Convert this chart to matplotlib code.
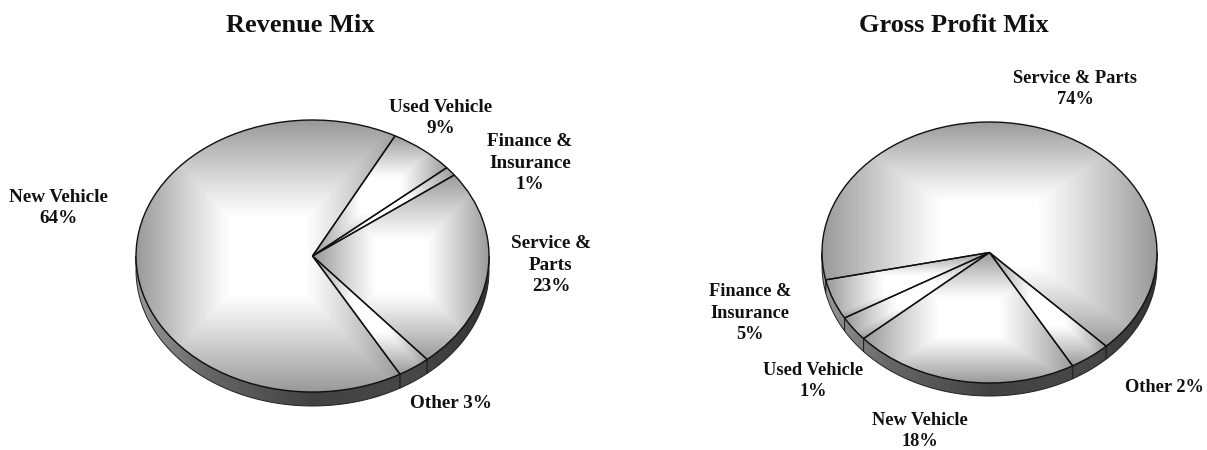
import numpy as np
import matplotlib
matplotlib.use("Agg")
import matplotlib.pyplot as plt
from matplotlib.patches import Polygon

W, H = 1207, 450

# slice shares as drawn in the picture (they differ from the printed percentages)
revenue_shares = [6.0, 1.1, 23.9, 3.0, 66.0]  # used, f&i, service, other, new
profit_shares = [66.1, 4.0, 21.8, 3.1, 5.0]  # service, other, new, used, f&i

revenue_labels = ["Used Vehicle\n9%", "Finance &\nInsurance\n1%", "Service &\nParts\n23%",
                  "Other 3%", "New Vehicle\n64%"]
profit_labels = ["Service & Parts\n74%", "Other 2%", "New Vehicle\n18%",
                 "Used Vehicle\n1%", "Finance &\nInsurance\n5%"]

revenue_label_pos = [(441, 118), (530, 163), (551, 265), (451, 403), (58, 208)]
profit_label_pos = [(1075, 89), (1164, 388), (920, 431), (813, 381), (750, 313)]

plt.rcParams["font.family"] = ["Liberation Serif", "DejaVu Serif"]
plt.rcParams["font.weight"] = "bold"

fig = plt.figure(figsize=(W / 100, H / 100), dpi=100, facecolor="white")


def px_text(x, y, s, size):
    fig.text(x / W, 1 - y / H, s, ha="center", va="center", fontsize=size,
             fontweight="bold", color="#111111", linespacing=1.36)


def top_shade():
    # rectangular gradient, white in the middle and gray at the box edges
    g = np.linspace(-1, 1, 240)
    u, v = np.meshgrid(g, g)
    t = np.maximum(np.abs(u), np.abs(v))
    return 1 - 0.4 * np.clip((t - 0.28) / 0.72, 0, 1) ** 1.1


def side_wall(ax, wedge, depth):
    for shift in (-360, 0, 360):
        a = max(wedge.theta1 + shift, 180)
        b = min(wedge.theta2 + shift, 360)
        if b <= a:
            continue
        th = np.radians(np.linspace(a, b, 80))
        x, y = np.cos(th), np.sin(th)
        pts = np.r_[np.c_[x, y], np.c_[x[::-1], y[::-1] - depth]]
        poly = Polygon(pts, closed=True, facecolor="none", edgecolor="#222222",
                       lw=0.7, zorder=2)
        ax.add_patch(poly)
        shade = np.interp(np.linspace(-1, 1, 300), [-1, -0.6, 0, 0.6, 1],
                          [0.6, 0.4, 0.26, 0.28, 0.2])[None, :]
        im = ax.imshow(shade, cmap="gray", vmin=0, vmax=1, aspect="auto",
                       extent=(-1, 1, -1.2, 0), zorder=1)
        im.set_clip_path(poly)


def draw_pie(shares, start, cx, cy, rx, ry, depth_px):
    ax = fig.add_axes([(cx - 1.05 * rx) / W, 1 - (cy + 1.2 * ry) / H,
                       2.1 * rx / W, 2.25 * ry / H])
    wedges, _ = ax.pie(shares, startangle=start, counterclock=False, radius=1,
                       wedgeprops=dict(facecolor="none", edgecolor="#111111", lw=1.0))
    for w in wedges:
        w.set_zorder(3)
        box = w.get_patch_transform().transform_path(w.get_path()).get_extents()
        im = ax.imshow(top_shade(), cmap="gray", vmin=0, vmax=1, aspect="auto",
                       extent=(box.x0, box.x1, box.y0, box.y1), zorder=2.5)
        im.set_clip_path(w)
        side_wall(ax, w, depth_px / ry)
    ax.set_aspect("auto")
    ax.set_xlim(-1.05, 1.05)
    ax.set_ylim(-1.2, 1.05)
    ax.axis("off")


draw_pie(revenue_shares, 62.1, 312.5, 256, 176.5, 136, 14)
draw_pie(profit_shares, 192.1, 989.5, 252.5, 167.5, 130.5, 13)

px_text(300, 25, "Revenue Mix", 19)
px_text(954, 25, "Gross Profit Mix", 19)
for (x, y), s in zip(revenue_label_pos, revenue_labels):
    px_text(x, y, s, 13.8)
for (x, y), s in zip(profit_label_pos, profit_labels):
    px_text(x, y, s, 13.2)

fig.savefig("out.png", dpi=100)
